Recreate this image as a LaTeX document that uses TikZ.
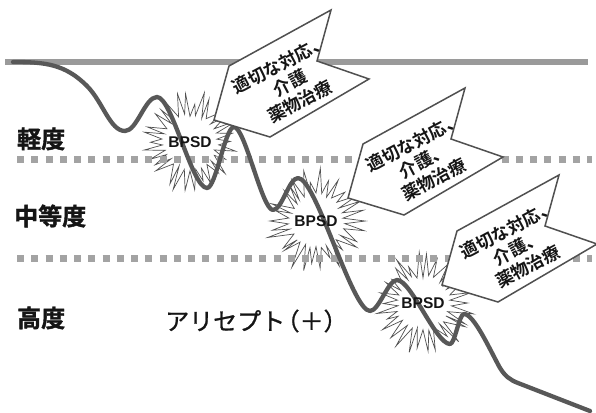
\documentclass[tikz,border=0pt]{standalone}
\usepackage{fontspec}
\setmainfont{Liberation Sans}
\newfontfamily\jpfont{Noto Sans CJK JP}[FakeBold=1]
\newfontfamily\jpboldfont{Noto Sans CJK JP Bold}[FakeBold=1.5]
\newfontfamily\jpcallfont{Noto Sans CJK JP Bold}
\newfontfamily\latinbold{Liberation Sans Bold}
\definecolor{linegray}{HTML}{9A9A9A}
\definecolor{dotgray}{HTML}{A3A3A3}
\definecolor{curvegray}{HTML}{585858}
\definecolor{edgegray}{HTML}{505050}
\definecolor{ink}{HTML}{151515}
\tikzset{
  topline/.style={line width=5.5pt, color=linegray},
  dotline/.style={line width=7pt, color=dotgray, dash pattern=on 7pt off 7.25pt},
  curve/.style={line width=4.3pt, color=curvegray, line cap=round, line join=round},
  burst/.style={draw=edgegray, line width=0.7pt, fill=white, line join=miter},
  bursttext/.style={font=\latinbold\fontsize{15.5}{15.5}\selectfont, text=ink, inner sep=0pt},
  levellabel/.style={font=\jpboldfont\fontsize{24}{25}\selectfont, text=ink, anchor=west, inner sep=0pt},
  drug/.style={font=\jpfont\fontsize{24}{25}\selectfont, text=ink, anchor=west, inner sep=0pt},
  callout/.style={draw=edgegray, line width=1.5pt, fill=white, line join=miter},
  callouttext/.style={font=\jpcallfont\fontsize{17.5}{21}\selectfont, text=ink, align=center, rotate=28, inner sep=0pt}
}
\newcommand{\mystarburst}[4]{% name, x, y, seed
  \pgfmathsetseed{#4}
  \pgfmathsetmacro{\st}{360/30}
  \draw[burst, shift={(#2,#3)}] ({-0.5*\st}:27)
    \foreach \k in {0,...,28} { -- ({\k*\st+2*rnd-1}:{38+15*rnd}) -- ({(\k+0.5)*\st}:{25+4*rnd}) }
    -- ({29*\st}:{38+15*rnd}) -- cycle;
  \coordinate (#1) at (#2,#3);
}
\newcommand{\mycallout}[4]{% name, x, y, second line
  \begin{scope}[shift={(#2,#3)}]
    \draw[callout] (0,0) -- (15,-54) -- (117,-110) -- (103,-59) -- (155,-41) -- (56,17) -- cycle;
    \node[callouttext] (#1) at (76,-37) {適切な対応、\\#4\\薬物治療};
  \end{scope}
}
\begin{document}
\begin{tikzpicture}[x=1pt,y=-1pt]
\fill[white] (0,0) rectangle (596,412);
\useasboundingbox (0,0) rectangle (596,412);

% top reference line
\coordinate (tl0) at (5,62);
\coordinate (tl1) at (588,62);
\draw[topline] (tl0) -- (tl1);

% bursts
\mystarburst{b1}{190}{142}{7}
\mystarburst{b2}{316}{221}{19}
\mystarburst{b3}{423}{303}{33}

% dotted level lines
\coordinate (d1a) at (17,159);
\coordinate (d1b) at (592,159);
\coordinate (d2a) at (17,258);
\coordinate (d2b) at (592,258);
\draw[dotline] (d1a) -- (d1b);
\draw[dotline] (d2a) -- (d2b);

% course curve
\draw[curve] (13,62) .. controls (45,62) and (65,64) .. (87,86)
  .. controls (103,102) and (110,131) .. (125,131)
  .. controls (137,131) and (145,97) .. (157,97)
  .. controls (172,97) and (192,188) .. (207,188)
  .. controls (216,188) and (225,127) .. (234,127)
  .. controls (245,127) and (262,210) .. (273,210)
  .. controls (282,210) and (289,178) .. (298,178)
  .. controls (316,178) and (352,311) .. (370,311)
  .. controls (379,311) and (388,280) .. (397,280)
  .. controls (411,280) and (436,344) .. (450,344)
  .. controls (455,344) and (459,314) .. (464,314)
  .. controls (474,314) and (490,350) .. (500,368)
  .. controls (505,376) and (510,380) .. (518,383)
  -- (590,411);

% BPSD labels
\node[bursttext] (t1) at (b1) {BPSD};
\node[bursttext] (t2) at (b2) {BPSD};
\node[bursttext] (t3) at (b3) {BPSD};

% level labels
\node[levellabel] (mild) at (17,139) {軽度};
\node[levellabel] (moderate) at (14,216) {中等度};
\node[levellabel] (severe) at (17,318) {高度};
\node[drug] (aricept) at (165,321) {アリセプト\kern-0.4em（＋）};

% callouts
\mycallout{c1}{214}{120}{介護}
\mycallout{c2}{348}{198}{介護、}
\mycallout{c3}{442}{285}{介護、}
\end{tikzpicture}
\end{document}
